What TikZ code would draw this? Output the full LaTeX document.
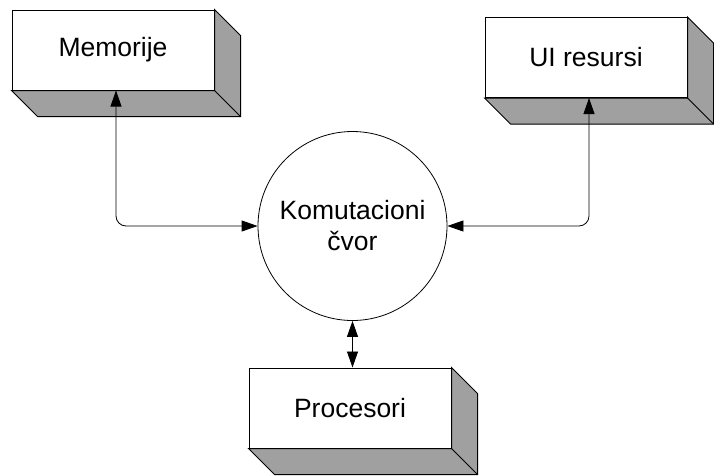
\documentclass[tikz,border=0pt]{standalone}
\usepackage{fontspec}
\setmainfont{Liberation Sans}
\usetikzlibrary{arrows.meta}
\definecolor{sidegray}{RGB}{160,160,160}
\begin{document}
\begin{tikzpicture}[x=1pt,y=-1pt,
  face/.style={draw,fill=white,line width=1pt,minimum width=202pt,minimum height=80pt,
    inner sep=0pt,font=\fontsize{26.5}{31}\selectfont},
  hub/.style={draw,circle,line width=0.8pt,minimum size=189pt,inner sep=0pt,align=center,
    font=\fontsize{26.5}{31}\selectfont},
  depth/.style={fill=sidegray,draw,line width=1pt,line join=miter},
  link/.style={line width=0.8pt,rounded corners=10pt,
    {Triangle[length=16pt,width=11pt]}-{Triangle[length=16pt,width=11pt]}}]
\useasboundingbox (0,0) rectangle (714,475);

% front faces of the three blocks and the switching node
\node[face] (mem)  at (113,50)  {Memorije};
\node[face] (ui)   at (586,57.5) {UI resursi};
\node[face] (proc) at (350,408) {Procesori};
\node[hub]  (hub)  at (352.5,226) {Komutacioni\\čvor};

% shaded bottom and right sides of each block
\foreach \n in {mem,ui,proc}{
  \draw[depth] (\n.south west) -- (\n.south east) -- (\n.north east)
    -- ([shift={(26,26)}]\n.north east) -- ([shift={(26,26)}]\n.south east)
    -- ([shift={(26,26)}]\n.south west) -- cycle;
  \draw[line width=1pt] (\n.south east) -- ([shift={(26,26)}]\n.south east);
}

% connectors
\draw[link] ([xshift=3pt]mem.south) |- (hub.west);
\draw[link] ([xshift=3pt]ui.south) |- (hub.east);
\draw[link] (hub.south) -- (hub.south |- proc.north);
\end{tikzpicture}
\end{document}
